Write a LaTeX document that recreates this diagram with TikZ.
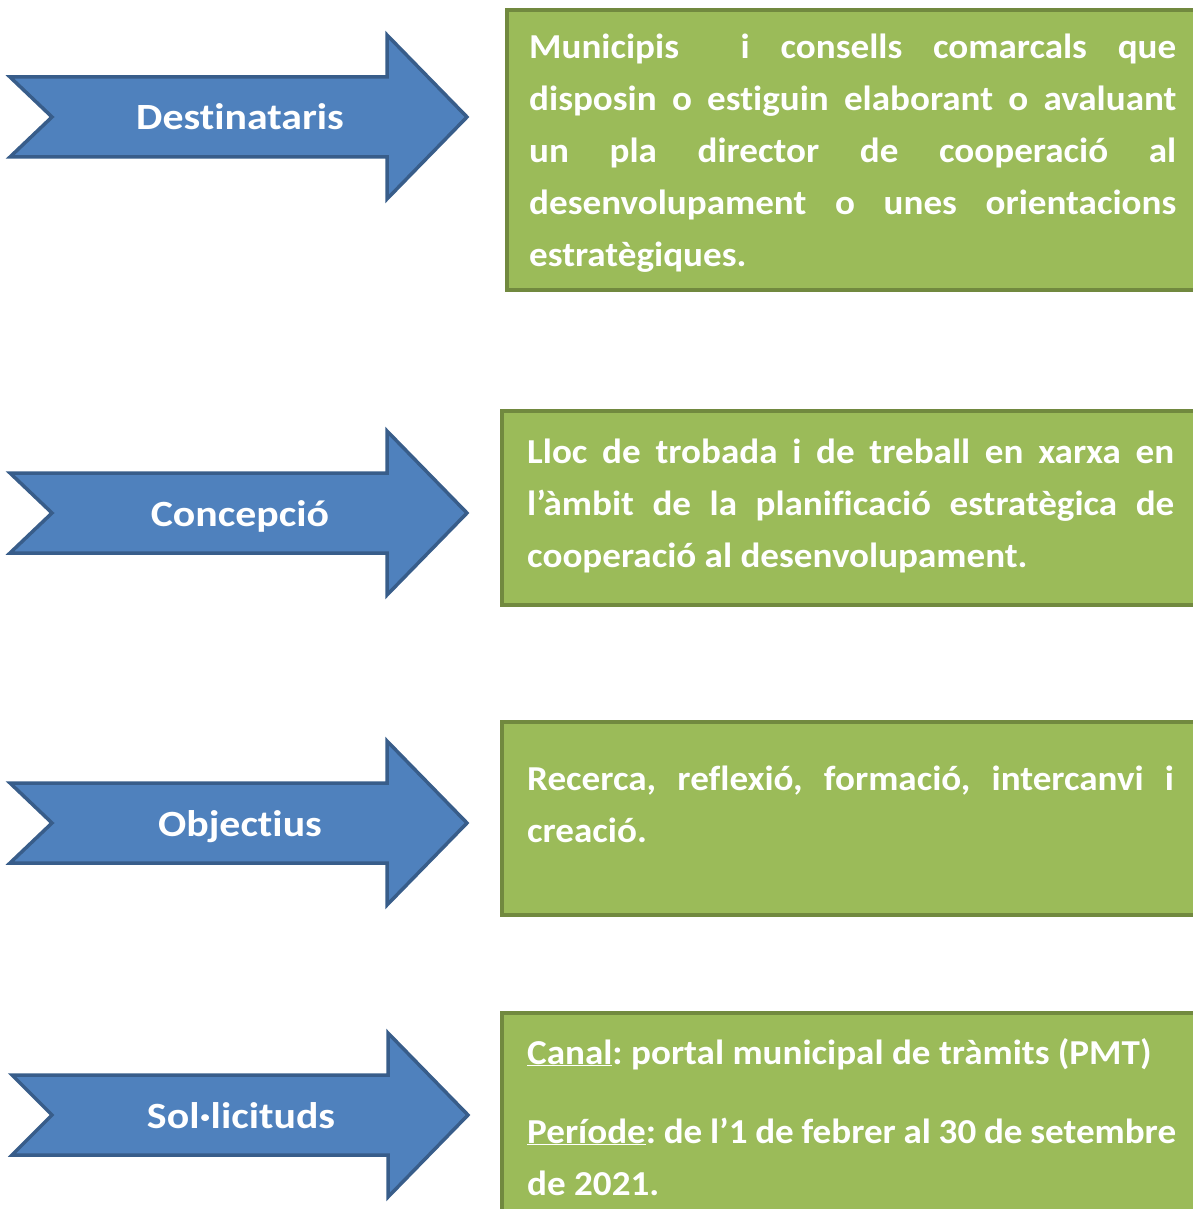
\documentclass[tikz,border=0pt]{standalone}
\usepackage{fontspec}
\newfontfamily\arrowfont{Carlito}[FakeStretch=1.13, Ligatures=NoCommon]
\newfontfamily\boxfont{Carlito}[FakeStretch=1.06, Ligatures=NoCommon]
\definecolor{arrowblue}{HTML}{4F81BD}
\definecolor{arrowedge}{HTML}{385D8A}
\definecolor{boxgreen}{HTML}{9BBB59}
\definecolor{boxedge}{HTML}{71893F}
\tikzset{
  arrowshape/.style={fill=arrowblue, draw=arrowedge, line width=3.5pt},
  arrowlabel/.style={text=white, font=\arrowfont\bfseries\fontsize{37}{44}\selectfont, inner sep=0pt, anchor=base},
  greenbox/.style={fill=boxgreen, draw=boxedge, line width=3.5pt},
  boxtext/.style={text=white, font=\boxfont\bfseries\fontsize{35}{52}\selectfont, inner sep=0pt, anchor=base west}
}
\newcommand{\fullline}[2]{\makebox[#1][s]{#2}}
\frenchspacing
\begin{document}
\begin{tikzpicture}[x=1pt,y=-1pt]
            \useasboundingbox (0,0) rectangle (1192,1209);

            % arrows on the left
            \draw[arrowshape] (10,77) -- (52,117) -- (10,157) -- (387,157) -- (387,199) -- (467,117) -- (387,35) -- (387,77) -- cycle;
            \node[arrowlabel] (dest) at (240,130) {Destinataris};

            \draw[arrowshape] (10,473) -- (52,513) -- (10,553) -- (387,553) -- (387,595) -- (467,513) -- (387,431) -- (387,473) -- cycle;
            \node[arrowlabel] (conc) at (240,526) {Concepció};

            \draw[arrowshape] (10,783) -- (52,823) -- (10,863) -- (387,863) -- (387,905) -- (467,823) -- (387,741) -- (387,783) -- cycle;
            \node[arrowlabel] (obj) at (240,836) {Objectius};

            \draw[arrowshape] (12,1075) -- (52,1115) -- (12,1155) -- (388,1155) -- (388,1197) -- (468,1115) -- (388,1033) -- (388,1075) -- cycle;
            \node[arrowlabel] (sol) at (241,1128) {Sol·licituds};

            % green boxes on the right (they run past the page edge)
            \draw[greenbox] (507,10) rectangle (1215,290);
            \node[boxtext] (destT) at (529,59) {\parbox[t]{647pt}{%
              \fullline{647pt}{Municipis\ \ i consells comarcals que}\\
              \fullline{647pt}{disposin o estiguin elaborant o avaluant}\\
              \fullline{647pt}{un pla director de cooperació al}\\
              \fullline{647pt}{desenvolupament o unes orientacions}\\
              estratègiques.}};

            \draw[greenbox] (502,411) rectangle (1215,605);
            \node[boxtext] (concT) at (527,463) {\parbox[t]{647pt}{%
              \fullline{647pt}{Lloc de trobada i de treball en xarxa en}\\
              \fullline{647pt}{l’àmbit de la planificació estratègica de}\\
              cooperació al desenvolupament.}};

            \draw[greenbox] (502,722) rectangle (1215,915);
            \node[boxtext] (objT) at (527,790) {\parbox[t]{647pt}{%
              \fullline{647pt}{Recerca, reflexió, formació, intercanvi i}\\
              creació.}};

            \draw[greenbox] (502,1013) rectangle (1215,1225);
            \node[boxtext] (solT) at (527,1064) {\parbox[t]{649pt}{%
              \underline{Canal}: portal municipal de tràmits (PMT)\\[27pt]
              \fullline{649pt}{\underline{Període}: de l’1 de febrer al 30 de setembre}\\
              de 2021.}};
          \end{tikzpicture}
\end{document}
